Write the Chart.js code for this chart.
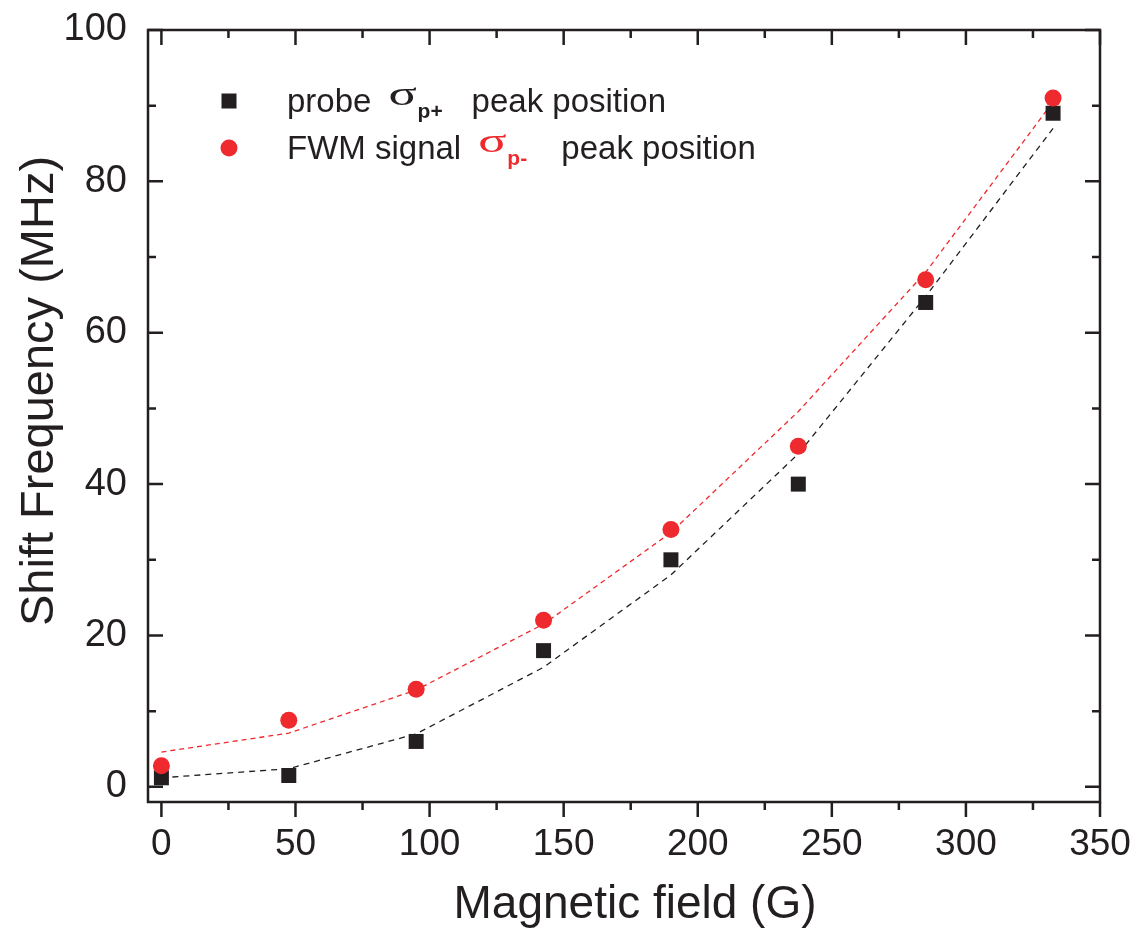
<!DOCTYPE html>
<html>
<head>
<meta charset="utf-8">
<script src="https://cdn.jsdelivr.net/npm/chart.js@4.4.0/dist/chart.umd.min.js"></script>
<style>
  html, body { margin: 0; padding: 0; background: #fff; }
  #wrap { width: 1137px; height: 932px; position: relative; }
</style>
</head>
<body>
<div id="wrap"><canvas id="shift-chart"></canvas></div>
<script>
// magnetic field (G)
const field = [0, 47.5, 95, 142.5, 190, 237.5, 285, 332.5];
// measured peak positions (MHz)
const probePeak = [1.2, 1.5, 6.0, 18.0, 30.0, 40.0, 64.0, 89.0];
const fwmPeak = [2.8, 8.8, 12.9, 22.0, 34.0, 45.0, 67.0, 91.0];
// dashed theory curves (MHz)
const probeTheory = [1.2, 2.4, 7.0, 15.8, 28.0, 44.0, 64.8, 87.0];
const fwmTheory = [4.6, 7.1, 12.8, 21.5, 33.6, 49.6, 68.0, 90.5];

const xTicks = [0, 50, 100, 150, 200, 250, 300, 350];
const xMinor = [25, 75, 125, 175, 225, 275, 325];
const yTicks = [0, 20, 40, 60, 80, 100];
const yMinor = [10, 30, 50, 70, 90];

const ink = '#231f20';
const red = '#ee2a2e';

function pairs(ys) {
  return field.map((x, i) => ({x: x, y: ys[i]}));
}

// frame, inward/outward ticks, axis titles and legend
const decor = {
  id: 'decor',
  afterDraw(chart) {
    const ctx = chart.ctx;
    const a = chart.chartArea;
    const sx = chart.scales.x, sy = chart.scales.y;
    ctx.save();
    ctx.strokeStyle = ink;
    ctx.lineWidth = 2.5;
    ctx.strokeRect(a.left, a.top, a.right - a.left, a.bottom - a.top);

    ctx.beginPath();
    xTicks.forEach(v => {
      const px = sx.getPixelForValue(v);
      ctx.moveTo(px, a.bottom); ctx.lineTo(px, a.bottom + 15);
      ctx.moveTo(px, a.top); ctx.lineTo(px, a.top + 15);
    });
    xMinor.forEach(v => {
      const px = sx.getPixelForValue(v);
      ctx.moveTo(px, a.bottom); ctx.lineTo(px, a.bottom + 8);
      ctx.moveTo(px, a.top); ctx.lineTo(px, a.top + 8);
    });
    yTicks.forEach(v => {
      const py = sy.getPixelForValue(v);
      ctx.moveTo(a.left, py); ctx.lineTo(a.left + 15, py);
      ctx.moveTo(a.right, py); ctx.lineTo(a.right - 15, py);
    });
    yMinor.forEach(v => {
      const py = sy.getPixelForValue(v);
      ctx.moveTo(a.left, py); ctx.lineTo(a.left + 8, py);
      ctx.moveTo(a.right, py); ctx.lineTo(a.right - 8, py);
    });
    ctx.stroke();

    // axis titles
    ctx.fillStyle = ink;
    ctx.textAlign = 'center';
    ctx.textBaseline = 'alphabetic';
    ctx.font = '46px "Liberation Sans", Arial, sans-serif';
    ctx.fillText('Magnetic field (G)', 635, 918);
    ctx.save();
    ctx.translate(53, 391);
    ctx.rotate(-Math.PI / 2);
    ctx.font = '47px "Liberation Sans Narrow", "Liberation Sans", sans-serif';
    ctx.fillText('Shift Frequency (MHz)', 0, 0);
    ctx.restore();

    // legend
    ctx.fillStyle = ink;
    ctx.fillRect(229 - 7.5, 101 - 7.5, 15, 15);
    ctx.fillStyle = red;
    ctx.beginPath();
    ctx.arc(229, 148, 8.5, 0, Math.PI * 2);
    ctx.fill();
    legendLine(ctx, 287, 112, 'probe ', ink, 'p+', 'peak position');
    legendLine(ctx, 287, 159, 'FWM signal ', red, 'p-', 'peak position');
    ctx.restore();
  }
};

function legendLine(ctx, x, y, lead, symColor, sub, tail) {
  ctx.textAlign = 'left';
  ctx.textBaseline = 'alphabetic';
  ctx.font = '33px "Liberation Sans", Arial, sans-serif';
  ctx.fillStyle = ink;
  ctx.fillText(lead, x, y);
  const x0 = x + ctx.measureText(lead).width;
  // wide sigma like the original symbol font
  ctx.fillStyle = symColor;
  ctx.save();
  ctx.translate(x0 + 8, y - 7);
  ctx.scale(1.55, 1);
  ctx.font = '34px "Liberation Serif", serif';
  ctx.fillText('σ', 0, 0);
  ctx.restore();
  ctx.font = 'bold 21px "Liberation Sans", Arial, sans-serif';
  ctx.fillText(sub, x0 + 37, y + 6);
  ctx.font = '33px "Liberation Sans", Arial, sans-serif';
  ctx.fillStyle = ink;
  ctx.fillText(tail, x0 + 91, y);
}

const ctx = document.getElementById('shift-chart').getContext('2d');
const chart = new Chart(ctx, {
  type: 'scatter',
  data: {
    datasets: [
      {
        label: 'FWM signal peak position',
        data: pairs(fwmPeak),
        pointStyle: 'circle',
        pointRadius: 8.5,
        backgroundColor: red,
        borderWidth: 0
      },
      {
        label: 'probe peak position',
        data: pairs(probePeak),
        pointStyle: 'rect',
        pointRadius: 10.6,
        backgroundColor: ink,
        borderWidth: 0
      },
      {
        type: 'line',
        data: pairs(fwmTheory),
        borderColor: red,
        borderWidth: 1.3,
        borderDash: [5, 4],
        pointRadius: 0,
        fill: false,
        tension: 0
      },
      {
        type: 'line',
        data: pairs(probeTheory),
        borderColor: ink,
        borderWidth: 1.3,
        borderDash: [6, 5],
        pointRadius: 0,
        fill: false,
        tension: 0
      }
    ]
  },
  options: {
    responsive: true,
    maintainAspectRatio: false,
    animation: false,
    events: [],
    layout: { padding: { top: 30, right: 37, left: 0, bottom: 0 } },
    plugins: {
      legend: { display: false },
      tooltip: { enabled: false }
    },
    scales: {
      x: {
        type: 'linear',
        min: -5,
        max: 350,
        grid: { display: false, drawTicks: false },
        border: { display: false },
        afterBuildTicks: s => { s.ticks = xTicks.map(v => ({value: v})); },
        afterFit: s => { s.height = 130; s.paddingLeft = 0; s.paddingRight = 0; },
        ticks: {
          color: ink,
          padding: 21,
          maxRotation: 0,
          font: { family: '"Liberation Sans Narrow", "Liberation Sans", sans-serif', size: 37 }
        }
      },
      y: {
        type: 'linear',
        min: -2,
        max: 100,
        grid: { display: false, drawTicks: false },
        border: { display: false },
        afterBuildTicks: s => { s.ticks = yTicks.map(v => ({value: v})); },
        afterFit: s => { s.width = 148; s.paddingTop = 0; s.paddingBottom = 0; },
        ticks: {
          color: ink,
          padding: 21,
          font: { family: '"Liberation Sans", Arial, sans-serif', size: 38 }
        }
      }
    }
  },
  plugins: [decor]
});
</script>
</body>
</html>
